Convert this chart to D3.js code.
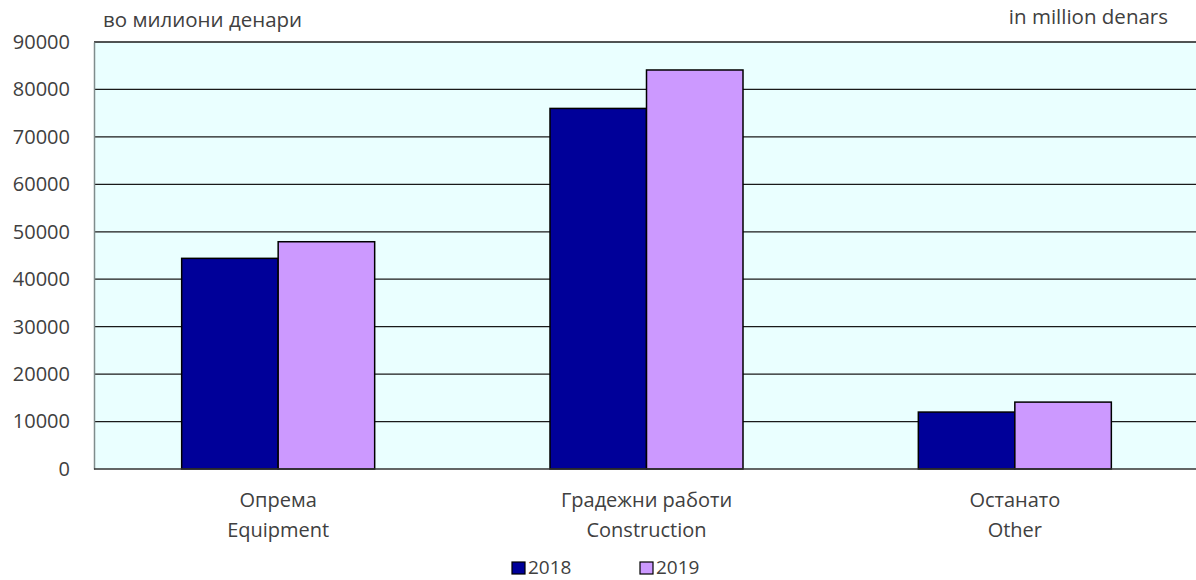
<!doctype html>
<html lang="mk">
<head>
<meta charset="utf-8">
<script src="https://cdn.jsdelivr.net/npm/d3@7"></script>
<style>
  body { margin: 0; background: #fff; }
  text { font-family: "Open Sans", "Noto Sans", sans-serif; fill: #404040; }
</style>
</head>
<body>
<div id="chart"></div>
<script>
// categories (two-line labels) and series
var catsMk = ["Опрема", "Градежни работи", "Останато"];
var catsEn = ["Equipment", "Construction", "Other"];
var years = ["2018", "2019"];
var values2018 = [44400, 76000, 12000];
var values2019 = [47900, 84100, 14100];
var yTicks = [0, 10000, 20000, 30000, 40000, 50000, 60000, 70000, 80000, 90000];
var colors = {"2018": "#000099", "2019": "#CC99FF"};

var W = 1196, H = 580;
var margin = {top: 42, right: -3, bottom: 111, left: 94};
var width = W - margin.left - margin.right,
    height = H - margin.top - margin.bottom;

var svg = d3.select("#chart").append("svg")
    .attr("width", W).attr("height", H);

var g = svg.append("g")
    .attr("transform", "translate(" + margin.left + "," + margin.top + ")");

var data = catsMk.map(function(c, i) {
  return {cat: c, en: catsEn[i], "2018": values2018[i], "2019": values2019[i]};
});

var x = d3.scaleBand()
    .domain(catsMk)
    .range([0, width])
    .paddingInner(0.476)
    .paddingOuter(0.238);

var x1 = d3.scaleBand()
    .domain(years)
    .range([0, x.bandwidth()]);

var y = d3.scaleLinear()
    .domain([0, 90000])
    .range([height, 0]);

// plot background
g.append("rect")
    .attr("width", width).attr("height", height)
    .attr("fill", "#EAFFFF");

// gridlines
g.selectAll(".grid")
  .data(yTicks.filter(function(d) { return d > 0; }))
  .enter().append("line")
    .attr("x1", 0).attr("x2", width)
    .attr("y1", function(d) { return y(d); })
    .attr("y2", function(d) { return y(d); })
    .attr("stroke", "#1a1a1a")
    .attr("stroke-width", 1.3);

// bars
var groups = g.selectAll(".grp")
  .data(data)
  .enter().append("g")
    .attr("transform", function(d) { return "translate(" + x(d.cat) + ",0)"; });

groups.selectAll("rect")
  .data(function(d) { return years.map(function(k) { return {key: k, value: d[k]}; }); })
  .enter().append("rect")
    .attr("x", function(d) { return x1(d.key); })
    .attr("y", function(d) { return y(d.value); })
    .attr("width", x1.bandwidth())
    .attr("height", function(d) { return height - y(d.value); })
    .attr("fill", function(d) { return colors[d.key]; })
    .attr("stroke", "#000")
    .attr("stroke-width", 1.5);

// y axis
var yAxis = g.append("g")
    .call(d3.axisLeft(y).tickValues(yTicks).tickSize(0).tickPadding(24).tickFormat(d3.format("d")));
yAxis.select(".domain").attr("stroke", "#7f8c8c").attr("stroke-width", 1.5);
yAxis.selectAll("text")
    .style("font-size", "20px")
    .style("font-family", "'Open Sans', sans-serif")
    .attr("fill", "#404040");

// x axis baseline
g.append("line")
    .attr("x1", 0).attr("x2", width)
    .attr("y1", height).attr("y2", height)
    .attr("stroke", "#333")
    .attr("stroke-width", 1.5);

// category labels
var lab = g.selectAll(".catlab")
  .data(data)
  .enter().append("text")
    .attr("text-anchor", "middle")
    .attr("x", function(d) { return x(d.cat) + x.bandwidth() / 2; })
    .attr("y", height + 38)
    .style("font-size", "20px");
lab.append("tspan").text(function(d) { return d.cat; });
lab.append("tspan")
    .attr("x", function(d) { return x(d.cat) + x.bandwidth() / 2; })
    .attr("dy", 30)
    .text(function(d) { return d.en; });

// unit labels
svg.append("text")
    .attr("x", 103).attr("y", 27)
    .style("font-size", "20.5px")
    .text("во милиони денари");
svg.append("text")
    .attr("x", 1168).attr("y", 24)
    .attr("text-anchor", "end")
    .style("font-size", "20.5px")
    .text("in million denars");

// legend
var legX = [512, 640];
var leg = svg.selectAll(".leg")
  .data(years)
  .enter().append("g")
    .attr("transform", function(d, i) { return "translate(" + legX[i] + ",562)"; });
leg.append("rect")
    .attr("width", 13).attr("height", 12)
    .attr("fill", function(d) { return colors[d]; })
    .attr("stroke", "#000")
    .attr("stroke-width", 1.2);
leg.append("text")
    .attr("x", 16).attr("y", 12)
    .style("font-size", "19px")
    .text(function(d) { return d; });
</script>
</body>
</html>
